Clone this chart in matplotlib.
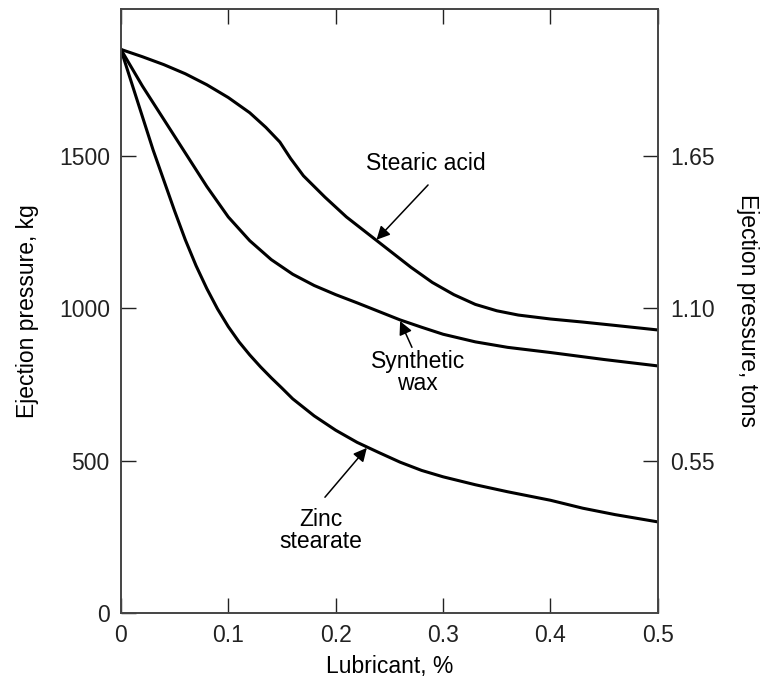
import matplotlib
matplotlib.use('Agg')
import matplotlib.pyplot as plt

plt.rcParams['font.family'] = ['Liberation Sans', 'DejaVu Sans']

# values (kg)
stearic_x = [0, 0.02, 0.04, 0.06, 0.08, 0.10, 0.12, 0.135, 0.148, 0.158, 0.17, 0.19, 0.21, 0.23,
             0.25, 0.27, 0.29, 0.31, 0.33, 0.35, 0.37, 0.40, 0.43, 0.46, 0.5]
stearic_y = [1850, 1826, 1800, 1770, 1734, 1692, 1642, 1594, 1546, 1492, 1435, 1365, 1300, 1245,
             1190, 1135, 1085, 1045, 1013, 992, 978, 965, 955, 944, 929]

wax_x = [0, 0.02, 0.04, 0.06, 0.08, 0.10, 0.12, 0.14, 0.16, 0.18, 0.20, 0.22, 0.24,
         0.26, 0.28, 0.30, 0.33, 0.36, 0.40, 0.45, 0.5]
wax_y = [1850, 1730, 1620, 1510, 1400, 1300, 1222, 1160, 1112, 1075, 1045, 1018, 990,
         962, 938, 915, 890, 872, 855, 832, 811]

zinc_x = [0, 0.01, 0.02, 0.03, 0.04, 0.05, 0.06, 0.07, 0.08, 0.09, 0.10, 0.11, 0.12,
          0.13, 0.14, 0.15, 0.16, 0.18, 0.20, 0.22, 0.24, 0.26, 0.28, 0.30, 0.33,
          0.36, 0.40, 0.43, 0.46, 0.5]
zinc_y = [1850, 1740, 1630, 1520, 1420, 1320, 1225, 1140, 1065, 998, 940, 890, 847,
          808, 772, 738, 703, 647, 600, 560, 527, 495, 468, 447, 421,
          398, 370, 344, 323, 299]

left_ticks = [0, 500, 1000, 1500]
right_ticks = [0.55, 1.10, 1.65]
x_ticks = [0, 0.1, 0.2, 0.3, 0.4, 0.5]

fs = 16.5

fig = plt.figure(figsize=(7.65, 6.83), dpi=100)
ax = fig.add_axes([0.158, 0.1025, 0.702, 0.8845])

lw = 2.2
ax.plot(stearic_x, stearic_y, color='black', lw=lw)
ax.plot(wax_x, wax_y, color='black', lw=lw)
ax.plot(zinc_x, zinc_y, color='black', lw=lw)

ax.set_xlim(0, 0.5)
ax.set_ylim(0, 1983)
ax.set_xticks(x_ticks)
ax.set_xticklabels(['0', '0.1', '0.2', '0.3', '0.4', '0.5'])
ax.set_yticks(left_ticks)
ax.tick_params(direction='in', length=11, width=1, labelsize=fs, top=True, pad=8, colors='#222222')
ax.set_xlabel('Lubricant, %', fontsize=fs, labelpad=6)
ax.set_ylabel('Ejection pressure, kg', fontsize=fs, labelpad=14)

for s in ax.spines.values():
    s.set_linewidth(1.2)
    s.set_color('#444444')

ax2 = ax.twinx()
ax2.set_ylim(0, 1983 * 1.1 / 1000)
ax2.set_yticks(right_ticks)
ax2.set_yticklabels(['%.2f' % t for t in right_ticks])
ax2.tick_params(direction='in', length=11, width=1, labelsize=fs, pad=9, colors='#222222')
ax2.set_ylabel('Ejection pressure, tons', fontsize=fs, rotation=270, labelpad=32)
for s in ax2.spines.values():
    s.set_linewidth(1.2)
    s.set_color('#444444')

arrow = dict(arrowstyle='-|>', lw=1.1, color='black', mutation_scale=20, shrinkA=0, shrinkB=0)
ax.annotate('', xy=(0.238, 1225), xytext=(0.286, 1405), arrowprops=arrow)
ax.text(0.284, 1475, 'Stearic acid', fontsize=fs, ha='center', va='center')

ax.annotate('', xy=(0.26, 958), xytext=(0.271, 872), arrowprops=arrow)
ax.text(0.2765, 790, 'Synthetic\nwax', fontsize=fs, ha='center', va='center', linespacing=0.95)

ax.annotate('', xy=(0.229, 542), xytext=(0.19, 380), arrowprops=arrow)
ax.text(0.186, 272, 'Zinc\nstearate', fontsize=fs, ha='center', va='center', linespacing=0.95)

plt.savefig('out.png', dpi=100)
